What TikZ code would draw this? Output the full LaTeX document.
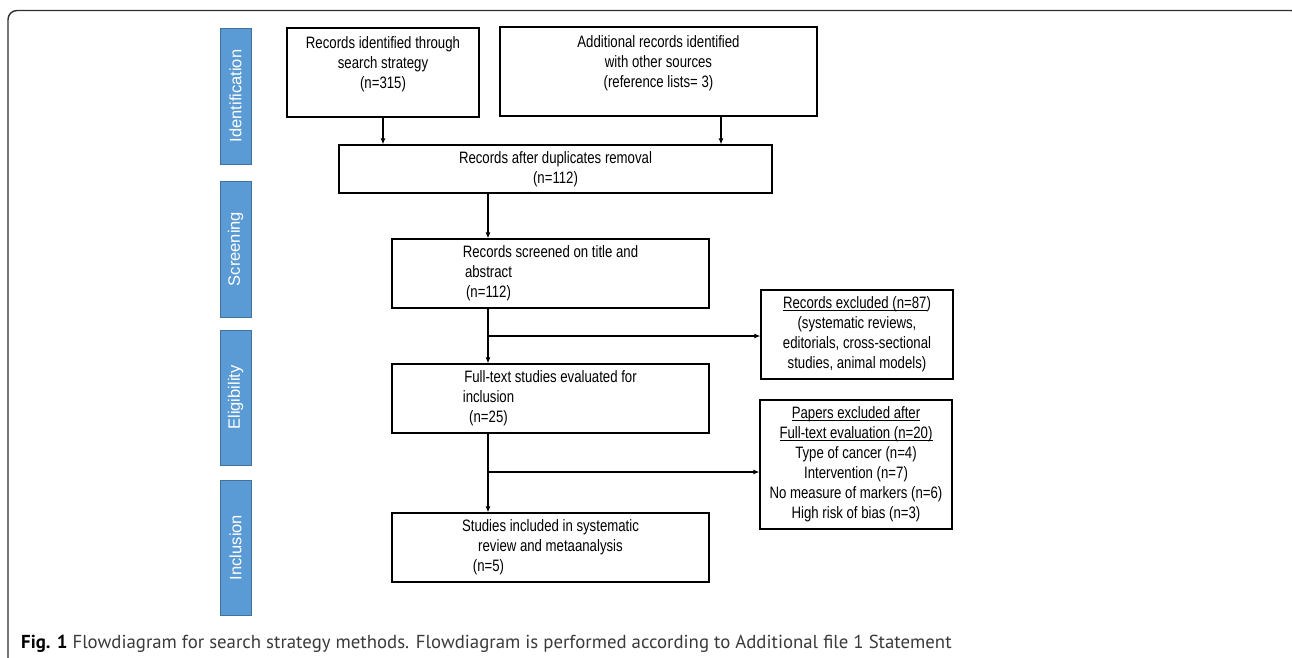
\documentclass[tikz,border=0pt]{standalone}
\usepackage{fontspec}
\setmainfont{Liberation Sans}
\newfontfamily\boxfont[FakeStretch=0.8]{Liberation Sans}
\newfontfamily\barfont{Liberation Sans}
\newfontfamily\capfont{PT Sans}
\usetikzlibrary{arrows.meta}
\definecolor{barfill}{HTML}{5B9BD5}
\definecolor{barline}{HTML}{41719C}
\definecolor{framecol}{HTML}{2E2E2E}
\definecolor{captxt}{HTML}{3A3A3A}
\newcommand\myul[1]{\leavevmode\setbox0\hbox{#1}\rlap{\rule[-2.4pt]{\wd0}{0.9pt}}\box0}
\newcommand\shl{\hspace*{124pt}\mbox{}}
\begin{document}
\begin{tikzpicture}[x=1pt,y=-1pt,
  flowbox/.style={draw=black, line width=1.2pt, rectangle, inner sep=0pt, align=center,
    font=\boxfont\fontsize{16.5}{20}\selectfont},
  phasebar/.style={draw=barline, line width=1pt, fill=barfill, rectangle, inner sep=0pt,
    rotate=90, minimum height=31pt, text=white, font=\barfont\fontsize{16.5}{20}\selectfont},
  arr/.style={line width=1.2pt, -{Latex[length=6pt,width=5pt]}}]
\useasboundingbox (0,0) rectangle (1292,657);
\begin{scope}
\clip (0,0) rectangle (1292,657);
\draw[framecol, line width=1.4pt, rounded corners=9pt] (8,660) -- (8,10.5) -- (1300,10.5) -- (1300,660);
\end{scope}

% phase bars
\node[phasebar, minimum width=136pt] (pid) at (235.5,96) {Identification};
\node[phasebar, minimum width=136pt] (psc) at (235.5,249) {Screening};
\node[phasebar, minimum width=135pt] (pel) at (235.5,397.5) {Eligibility};
\node[phasebar, minimum width=135pt] (pin) at (235.5,547.5) {Inclusion};

% boxes
\node[flowbox, minimum width=192pt, minimum height=89pt] (b1) at (383,72.5)
  {Records identified through\\search strategy\\(n=315)\\\mbox{}};
\node[flowbox, minimum width=317pt, minimum height=89pt] (b2) at (658.5,71.5)
  {Additional records identified\\with other sources\\(reference lists= 3)\\\mbox{}};
\node[flowbox, minimum width=433pt, minimum height=48pt] (b3) at (555.5,169)
  {Records after duplicates removal\\(n=112)};
\node[flowbox, minimum width=317pt, minimum height=69pt] (b4) at (550.5,273.5)
  {Records screened on title and\\abstract\shl\\(n=112)\shl};
\node[flowbox, minimum width=317pt, minimum height=69pt] (b5) at (550.5,398.5)
  {Full-text studies evaluated for\\inclusion\shl\\(n=25)\shl};
\node[flowbox, minimum width=317pt, minimum height=69pt] (b6) at (550.5,547.5)
  {Studies included in systematic\\review and metaanalysis\\(n=5)\shl};
\node[flowbox, minimum width=192pt, minimum height=89pt] (e1) at (857,334.5)
  {\myul{Records excluded (n=87}) \\(systematic reviews,\\editorials, cross-sectional\\studies, animal models)};
\node[flowbox, minimum width=192pt, minimum height=129pt] (e2) at (856,464.5)
  {\myul{Papers excluded after}\\\myul{Full-text evaluation (n=20)}\\Type of cancer (n=4)\\Intervention (n=7)\\No measure of markers (n=6)\\High risk of bias (n=3)};

% connectors
\coordinate (col) at (488,0);
\coordinate (c2) at (721,0);
\coordinate (j1) at (488,336);
\coordinate (j2) at (488,472);
\draw[arr] (b1.south) -- (b1.south |- b3.north);
\draw[arr] (c2 |- b2.south) -- (c2 |- b3.north);
\draw[arr] (col |- b3.south) -- (col |- b4.north);
\draw[arr] (col |- b4.south) -- (col |- b5.north);
\draw[arr] (j1) -- (j1 -| e1.west);
\draw[arr] (col |- b5.south) -- (col |- b6.north);
\draw[arr] (j2) -- (j2 -| e2.west);

% caption
\node[anchor=base west, inner sep=0pt, text=captxt, font=\capfont\fontsize{18.8}{22}\selectfont] (cap) at (21,648)
  {\textcolor{black}{\textbf{Fig. 1}} Flowdiagram for search strategy methods. Flowdiagram is performed according to Additional file 1 Statement};
\end{tikzpicture}
\end{document}
